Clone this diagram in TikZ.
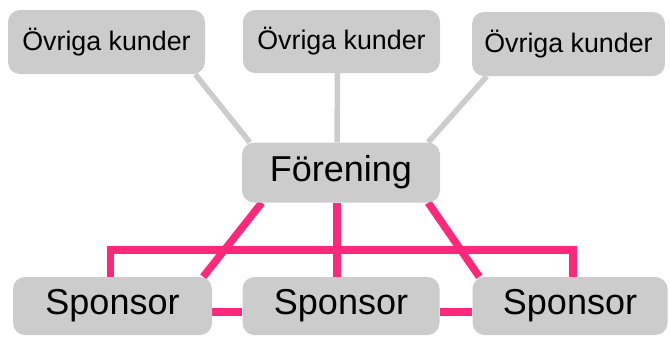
\documentclass[tikz,border=0pt]{standalone}
\usepackage{fontspec}
\setmainfont{Liberation Sans}
\usetikzlibrary{backgrounds}

\definecolor{boxgray}{RGB}{204,204,204}
\definecolor{linegray}{RGB}{204,204,204}
\definecolor{linkpink}{RGB}{255,40,122}

\begin{document}
\begin{tikzpicture}[x=1pt,y=-1pt,inner sep=0pt,
  kbox/.style={fill=boxgray,rounded corners=12pt,font=\fontsize{26.8}{30}\selectfont},
  bigbox/.style={fill=boxgray,rounded corners=12pt,font=\fontsize{36}{40}\selectfont},
  grayline/.style={draw=linegray,line width=5.5pt},
  pinkline/.style={draw=linkpink,line width=7.5pt}]
\useasboundingbox (0,0) rectangle (670,338);
\node[kbox,minimum width=197pt,minimum height=64pt] (k1) at (106.5, 42) {Övriga kunder};
\node[kbox,minimum width=197pt,minimum height=63pt] (k2) at (341.5, 41.5) {Övriga kunder};
\node[kbox,minimum width=193pt,minimum height=64pt] (k3) at (568.5, 44) {Övriga kunder};
\node[bigbox,minimum width=198pt,minimum height=60pt] (f) at (341, 172.5) {Förening};
\node[bigbox,minimum width=199pt,minimum height=58pt] (s1) at (112.5, 306) {Sponsor};
\node[bigbox,minimum width=197pt,minimum height=58pt] (s2) at (341, 306) {Sponsor};
\node[bigbox,minimum width=195pt,minimum height=58pt] (s3) at (570, 306) {Sponsor};

\begin{pgfonlayer}{background}
\draw[grayline] ([xshift=-10pt]k1.south east) -- ([xshift=8pt]f.north west);
\draw[grayline] ([xshift=-4pt]k2.south) -- ([xshift=-4pt]f.north);
\draw[grayline] ([xshift=15pt]k3.south west) -- ([xshift=-12pt]f.north east);

\draw[pinkline] ([xshift=20pt]f.south west) -- ([xshift=-9pt]s1.north east);
\draw[pinkline] ([xshift=-12pt]f.south east) -- ([xshift=7pt]s3.north west);
\draw[pinkline] ([xshift=-4pt]f.south) -- ([xshift=-4pt]s2.north);
\draw[pinkline] ([xshift=-2pt]s1.north) -- ++(0,-27) -| ([xshift=3pt]s3.north);
\draw[pinkline] ([yshift=-6pt]s1.east) -- ([yshift=-6pt]s2.west);
\draw[pinkline] ([yshift=-6pt]s2.east) -- ([yshift=-6pt]s3.west);
\end{pgfonlayer}
\end{tikzpicture}
\end{document}
